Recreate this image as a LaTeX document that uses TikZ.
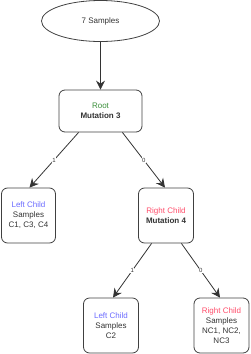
\documentclass[tikz,border=0pt]{standalone}
\usepackage{fontspec}
\setmainfont{Liberation Sans}
\usetikzlibrary{shapes.geometric,arrows.meta}
\definecolor{txt}{HTML}{333333}
\definecolor{rootgreen}{HTML}{3A8F3A}
\definecolor{leftblue}{HTML}{6B6BFF}
\definecolor{rightred}{HTML}{FF4D6A}
\tikzset{
  box/.style={draw=black!75, line width=0.8pt, rounded corners=6pt, minimum width=#1, align=center, font=\fontsize{8}{10}\selectfont, text=txt, inner sep=0pt},
  box/.default=55pt,
  conn/.style={draw=black!80, line width=0.8pt, -{Stealth[length=9pt,width=9pt,inset=3pt]}},
  elab/.style={fill=white, font=\fontsize{6}{7}\selectfont, text=txt, inner sep=0.5pt}
}
\begin{document}
\begin{tikzpicture}[x=1pt,y=-1pt]
\useasboundingbox (0,0) rectangle (250,354);
\node[ellipse, draw=black!75, line width=0.8pt, minimum width=118pt, minimum height=41pt, font=\fontsize{8}{10}\selectfont, text=txt] (top) at (100.5,21) {7 Samples};
\node[box=83pt, minimum height=42pt] (root) at (100.5,111) {\textcolor{rootgreen}{Root}\\\textbf{Mutation 3}};
\node[box=54pt, minimum height=55pt] (lc) at (28.5,215.5) {\textcolor{leftblue}{Left Child}\\Samples\\C1, C3, C4};
\node[box=55pt, minimum height=55pt] (rc) at (166,215.5) {\textcolor{rightred}{Right Child}\\\textbf{Mutation 4}};
\node[box=55pt, minimum height=55pt] (llc) at (111,325.5) {\textcolor{leftblue}{Left Child}\\Samples\\C2};
\node[box=55pt, minimum height=55pt] (rrc) at (221.5,325.5) {\textcolor{rightred}{Right Child}\\Samples\\NC1, NC2,\\NC3};
\draw[conn] (top) -- (root);
\draw[conn] ([xshift=20pt]root.south west) -- node[elab]{1} ([xshift=1pt]lc.north);
\draw[conn] ([xshift=-20pt]root.south east) -- node[elab]{0} ([xshift=-1pt]rc.north);
\draw[conn] ([xshift=13.5pt]rc.south west) -- node[elab]{1} ([xshift=2pt]llc.north);
\draw[conn] ([xshift=-12.5pt]rc.south east) -- node[elab]{0} ([xshift=-1.5pt]rrc.north);
\end{tikzpicture}
\end{document}
